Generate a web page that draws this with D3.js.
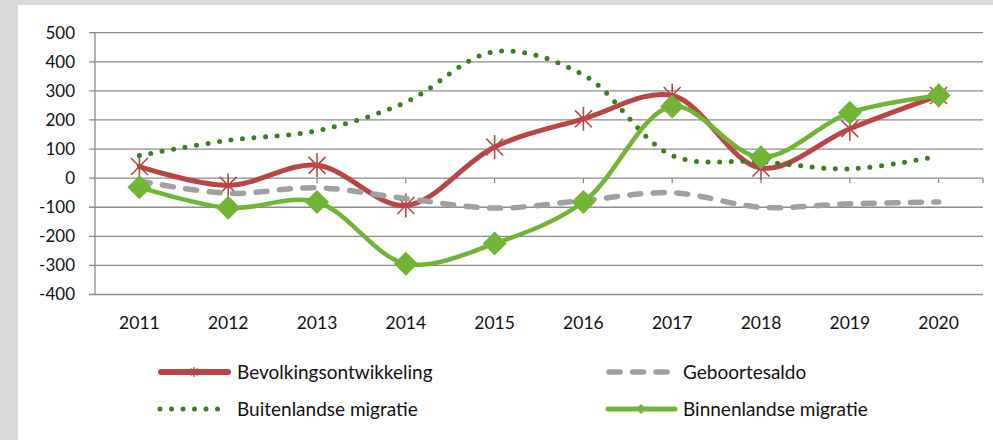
<!DOCTYPE html>
<html>
<head>
  <meta charset="utf-8">
  <script src="https://d3js.org/d3.v7.min.js"></script>
  <style>
    body { margin: 0; background: #d9d9d9; }
    text { font-family: Lato, "Noto Sans", sans-serif; fill: #111; }
  </style>
</head>
<body>
  <div id="chart"></div>
  <script>
    var years = ["2011", "2012", "2013", "2014", "2015", "2016", "2017", "2018", "2019", "2020"];
    var yTicks = [500, 400, 300, 200, 100, 0, -100, -200, -300, -400];

    var bevolking = [40, -25, 44, -94, 107, 204, 284, 35, 170, 284];
    var geboorte = [-10, -52, -33, -70, -103, -77, -50, -100, -88, -82];
    var buitenland = [78, 130, 163, 261, 435, 355, 78, 57, 32, 76];
    var binnenland = [-31, -102, -82, -294, -225, -82, 246, 72, 225, 284];

    var W = 993, H = 440;
    var plotL = 95, plotR = 983, plotT = 32.7, plotB = 294.5;

    var svg = d3.select("#chart").append("svg")
      .attr("width", W).attr("height", H);

    svg.append("rect").attr("width", W).attr("height", H).attr("fill", "#d9d9d9");
    svg.append("rect").attr("x", 18).attr("y", 5).attr("width", W - 18).attr("height", H - 5).attr("fill", "#fff");

    var x = d3.scaleBand().domain(years).range([plotL, plotR]).padding(0);
    var cx = function(d) { return x(d) + x.bandwidth() / 2; };
    var y = d3.scaleLinear().domain([-400, 500]).range([plotB, plotT]);

    // gridlines
    svg.append("g").selectAll("line").data(yTicks).enter().append("line")
      .attr("x1", plotL - 6).attr("x2", plotR)
      .attr("y1", function(d) { return y(d); }).attr("y2", function(d) { return y(d); })
      .attr("stroke", "#8c8c8c").attr("stroke-width", 1.3);

    // y axis line
    svg.append("line").attr("x1", plotL).attr("x2", plotL).attr("y1", y(500)).attr("y2", y(-400))
      .attr("stroke", "#8c8c8c").attr("stroke-width", 1.3);

    // y labels
    svg.append("g").selectAll("text").data(yTicks).enter().append("text")
      .attr("x", 75).attr("y", function(d) { return y(d); })
      .attr("dy", "0.35em").attr("text-anchor", "end")
      .style("font-size", "17px")
      .text(function(d) { return d; });

    // x axis at zero, ticks at category centers
    var xTicks = years.map(cx).concat([plotR]);
    svg.append("g").selectAll("line").data(xTicks).enter().append("line")
      .attr("x1", function(d) { return d; }).attr("x2", function(d) { return d; })
      .attr("y1", y(0)).attr("y2", y(0) + 5)
      .attr("stroke", "#8c8c8c").attr("stroke-width", 1.3);

    svg.append("g").selectAll("text").data(years).enter().append("text")
      .attr("x", cx).attr("y", 329).attr("text-anchor", "middle")
      .style("font-size", "17.5px")
      .text(function(d) { return d; });

    var line = d3.line()
      .x(function(d, i) { return cx(years[i]); })
      .y(function(d) { return y(d); })
      .curve(d3.curveCatmullRom.alpha(0.5));

    var red = "#b94646", gray = "#a0a0a0", dark = "#3a7f1e", lime = "#72b435";

    function star(g, px, py, r, w) {
      var d = r * 0.7071;
      g.append("path")
        .attr("d", "M" + (px - d) + "," + (py - d) + "L" + (px + d) + "," + (py + d) +
                   "M" + (px - d) + "," + (py + d) + "L" + (px + d) + "," + (py - d) +
                   "M" + px + "," + (py - r) + "L" + px + "," + (py + r))
        .attr("stroke", red).attr("stroke-width", w).attr("fill", "none");
    }
    function diamond(g, px, py, r) {
      g.append("path")
        .attr("d", "M" + px + "," + (py - r) + "L" + (px + r) + "," + py + "L" + px + "," + (py + r) + "L" + (px - r) + "," + py + "Z")
        .attr("fill", lime);
    }

    // Bevolkingsontwikkeling
    svg.append("path").attr("d", line(bevolking))
      .attr("fill", "none").attr("stroke", red).attr("stroke-width", 5).attr("stroke-linecap", "round");
    var gStar = svg.append("g");
    bevolking.forEach(function(v, i) { star(gStar, cx(years[i]), y(v), 12, 1.6); });

    // Geboortesaldo
    svg.append("path").attr("d", line(geboorte))
      .attr("fill", "none").attr("stroke", gray).attr("stroke-width", 5.5)
      .attr("stroke-linecap", "round").attr("stroke-dasharray", "11,12.5");

    // Buitenlandse migratie
    svg.append("path").attr("d", line(buitenland))
      .attr("fill", "none").attr("stroke", dark).attr("stroke-width", 5)
      .attr("stroke-linecap", "round").attr("stroke-dasharray", "0,11.6");

    // Binnenlandse migratie
    svg.append("path").attr("d", line(binnenland))
      .attr("fill", "none").attr("stroke", lime).attr("stroke-width", 4.5).attr("stroke-linecap", "round");
    var gDia = svg.append("g");
    binnenland.forEach(function(v, i) { diamond(gDia, cx(years[i]), y(v), 12); });

    // legend
    var lg = svg.append("g");
    var r1 = 372, r2 = 409, fs = "19px";
    lg.append("line").attr("x1", 161).attr("x2", 228).attr("y1", r1).attr("y2", r1)
      .attr("stroke", red).attr("stroke-width", 6).attr("stroke-linecap", "round");
    star(lg, 194, r1, 5, 1.3);
    lg.append("text").attr("x", 237).attr("y", r1).attr("dy", "0.35em").style("font-size", fs).text("Bevolkingsontwikkeling");

    lg.append("line").attr("x1", 160).attr("x2", 228).attr("y1", r2).attr("y2", r2)
      .attr("stroke", dark).attr("stroke-width", 5).attr("stroke-linecap", "round").attr("stroke-dasharray", "0,11.5");
    lg.append("text").attr("x", 237).attr("y", r2).attr("dy", "0.35em").style("font-size", fs).text("Buitenlandse migratie");

    lg.append("line").attr("x1", 609).attr("x2", 669).attr("y1", r1).attr("y2", r1)
      .attr("stroke", gray).attr("stroke-width", 5.5).attr("stroke-linecap", "round").attr("stroke-dasharray", "11,12.5");
    lg.append("text").attr("x", 683).attr("y", r1).attr("dy", "0.35em").style("font-size", fs).text("Geboortesaldo");

    lg.append("line").attr("x1", 608).attr("x2", 675).attr("y1", r2).attr("y2", r2)
      .attr("stroke", lime).attr("stroke-width", 5).attr("stroke-linecap", "round");
    diamond(lg, 641, r2, 5);
    lg.append("text").attr("x", 683).attr("y", r2).attr("dy", "0.35em").style("font-size", fs).text("Binnenlandse migratie");
  </script>
</body>
</html>
